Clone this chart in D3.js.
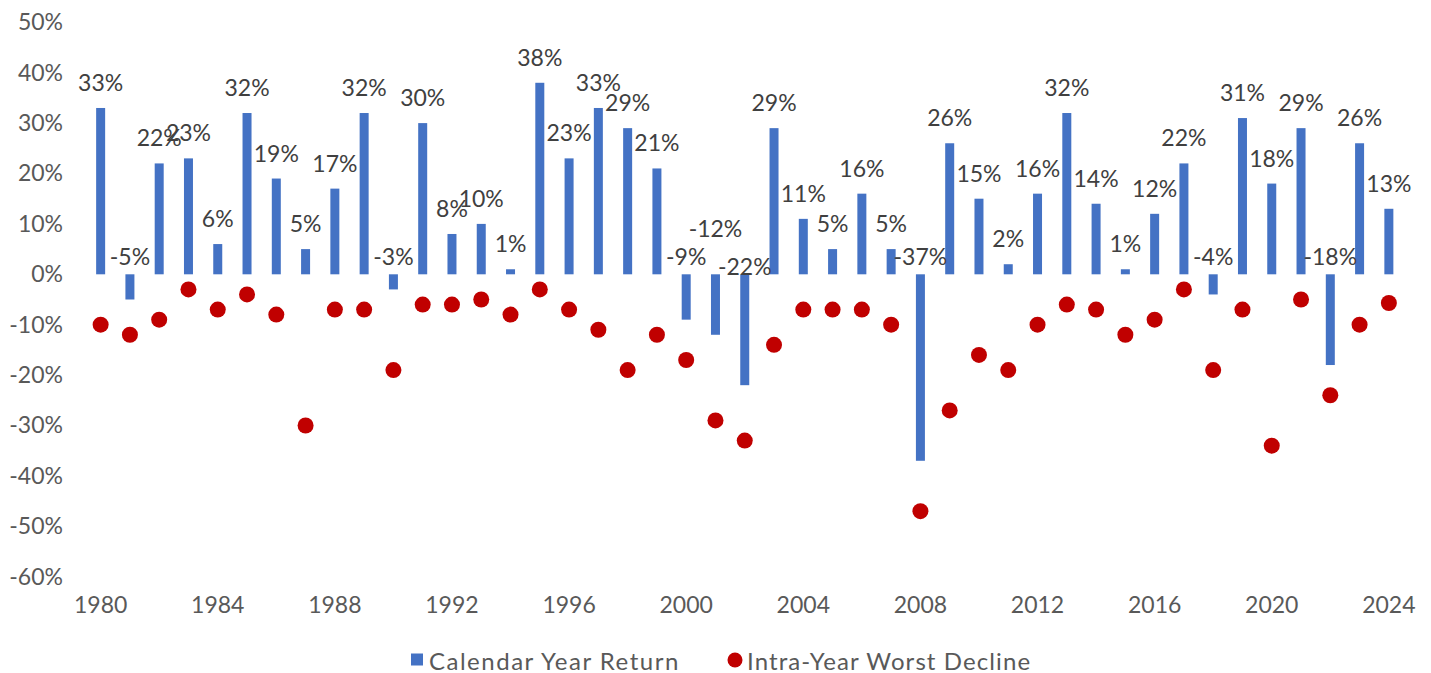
<!DOCTYPE html>
<html>
<head>
<meta charset="utf-8">
<script src="https://cdn.jsdelivr.net/npm/d3@7"></script>
<style>
  body { margin: 0; background: #fff; }
  text { font-family: Lato, "Open Sans", sans-serif; fill: #595959; }
</style>
</head>
<body>
<div id="chart"></div>
<script>
// chart data
var years = d3.range(1980, 2025);
var calendarReturn = [33, -5, 22, 23, 6, 32, 19, 5, 17, 32, -3, 30, 8, 10, 1, 38, 23, 33, 29, 21,
  -9, -12, -22, 29, 11, 5, 16, 5, -37, 26, 15, 2, 16, 32, 14, 1, 12, 22, -4, 31, 18, 29, -18, 26, 13];
var worstDecline = [-10, -12, -9, -3, -7, -4, -8, -30, -7, -7, -19, -6, -6, -5, -8, -3, -7, -11, -19, -12,
  -17, -29, -33, -14, -7, -7, -7, -10, -47, -27, -16, -19, -10, -6, -7, -12, -9, -3, -19, -7, -34, -5, -24, -10, -5.7];
var yTicks = [50, 40, 30, 20, 10, 0, -10, -20, -30, -40, -50, -60];
var xTicks = [1980, 1984, 1988, 1992, 1996, 2000, 2004, 2008, 2012, 2016, 2020, 2024];
var seriesNames = ["Calendar Year Return", "Intra-Year Worst Decline"];

var width = 1431, height = 673;
var fontSize = 23;

// label nudges for the two crowded negative years
var labelNudge = {2001: -28, 2002: 10};

var svg = d3.select("#chart")
  .append("svg")
  .attr("width", width)
  .attr("height", height);

var xScale = d3.scaleBand()
  .domain(years)
  .range([86, 1403.5]);

var yScale = d3.scaleLinear()
  .domain([-60, 50])
  .range([576.7, 22.3]);

var barW = 9;
var cx = function(yr) { return xScale(yr) + xScale.bandwidth() / 2; };

var data = years.map(function(yr, i) {
  return {year: yr, ret: calendarReturn[i], dec: worstDecline[i]};
});

// y axis labels
var yAxis = d3.axisLeft(yScale)
  .tickValues(yTicks)
  .tickSize(0)
  .tickPadding(0)
  .tickFormat(function(d) { return d + "%"; });

svg.append("g")
  .attr("transform", "translate(63,0)")
  .call(yAxis)
  .call(function(g) { g.select(".domain").remove(); })
  .selectAll("text")
  .attr("font-size", fontSize)
  .attr("font-family", null)
  .attr("fill", "#595959");

// x axis labels
var xAxis = d3.axisBottom(xScale)
  .tickValues(xTicks)
  .tickSize(0)
  .tickPadding(0);

svg.append("g")
  .attr("transform", "translate(0,597)")
  .call(xAxis)
  .call(function(g) { g.select(".domain").remove(); })
  .selectAll("text")
  .attr("font-size", fontSize)
  .attr("font-family", null)
  .attr("fill", "#595959");

// bars
svg.append("g").selectAll("rect")
  .data(data)
  .enter()
  .append("rect")
  .attr("x", function(d) { return cx(d.year) - barW / 2; })
  .attr("y", function(d) { return yScale(Math.max(0, d.ret)); })
  .attr("width", barW)
  .attr("height", function(d) { return Math.abs(yScale(d.ret) - yScale(0)); })
  .attr("fill", "#4472C4");

// dots
svg.append("g").selectAll("circle")
  .data(data)
  .enter()
  .append("circle")
  .attr("cx", function(d) { return cx(d.year); })
  .attr("cy", function(d) { return yScale(d.dec); })
  .attr("r", 8)
  .attr("fill", "#C00000");

// bar labels
svg.append("g").selectAll("text")
  .data(data)
  .enter()
  .append("text")
  .attr("x", function(d) { return cx(d.year); })
  .attr("y", function(d) {
    var y = d.ret >= 0 ? yScale(d.ret) - 26 : yScale(0) - 18;
    return y + (labelNudge[d.year] || 0);
  })
  .attr("text-anchor", "middle")
  .attr("dominant-baseline", "central")
  .attr("font-size", fontSize)
  .style("fill", "#404040")
  .text(function(d) { return d.ret + "%"; });

// legend
var legend = svg.append("g");
legend.append("rect")
  .attr("x", 411).attr("y", 653.5)
  .attr("width", 12).attr("height", 12)
  .attr("fill", "#4472C4");
legend.append("text")
  .attr("x", 429).attr("y", 660)
  .attr("dominant-baseline", "central")
  .attr("font-size", 24)
  .attr("letter-spacing", 1.5)
  .text(seriesNames[0]);
legend.append("circle")
  .attr("cx", 735).attr("cy", 660)
  .attr("r", 7.5)
  .attr("fill", "#C00000");
legend.append("text")
  .attr("x", 747).attr("y", 660)
  .attr("dominant-baseline", "central")
  .attr("font-size", 24)
  .attr("letter-spacing", 1.1)
  .text(seriesNames[1]);
</script>
</body>
</html>
